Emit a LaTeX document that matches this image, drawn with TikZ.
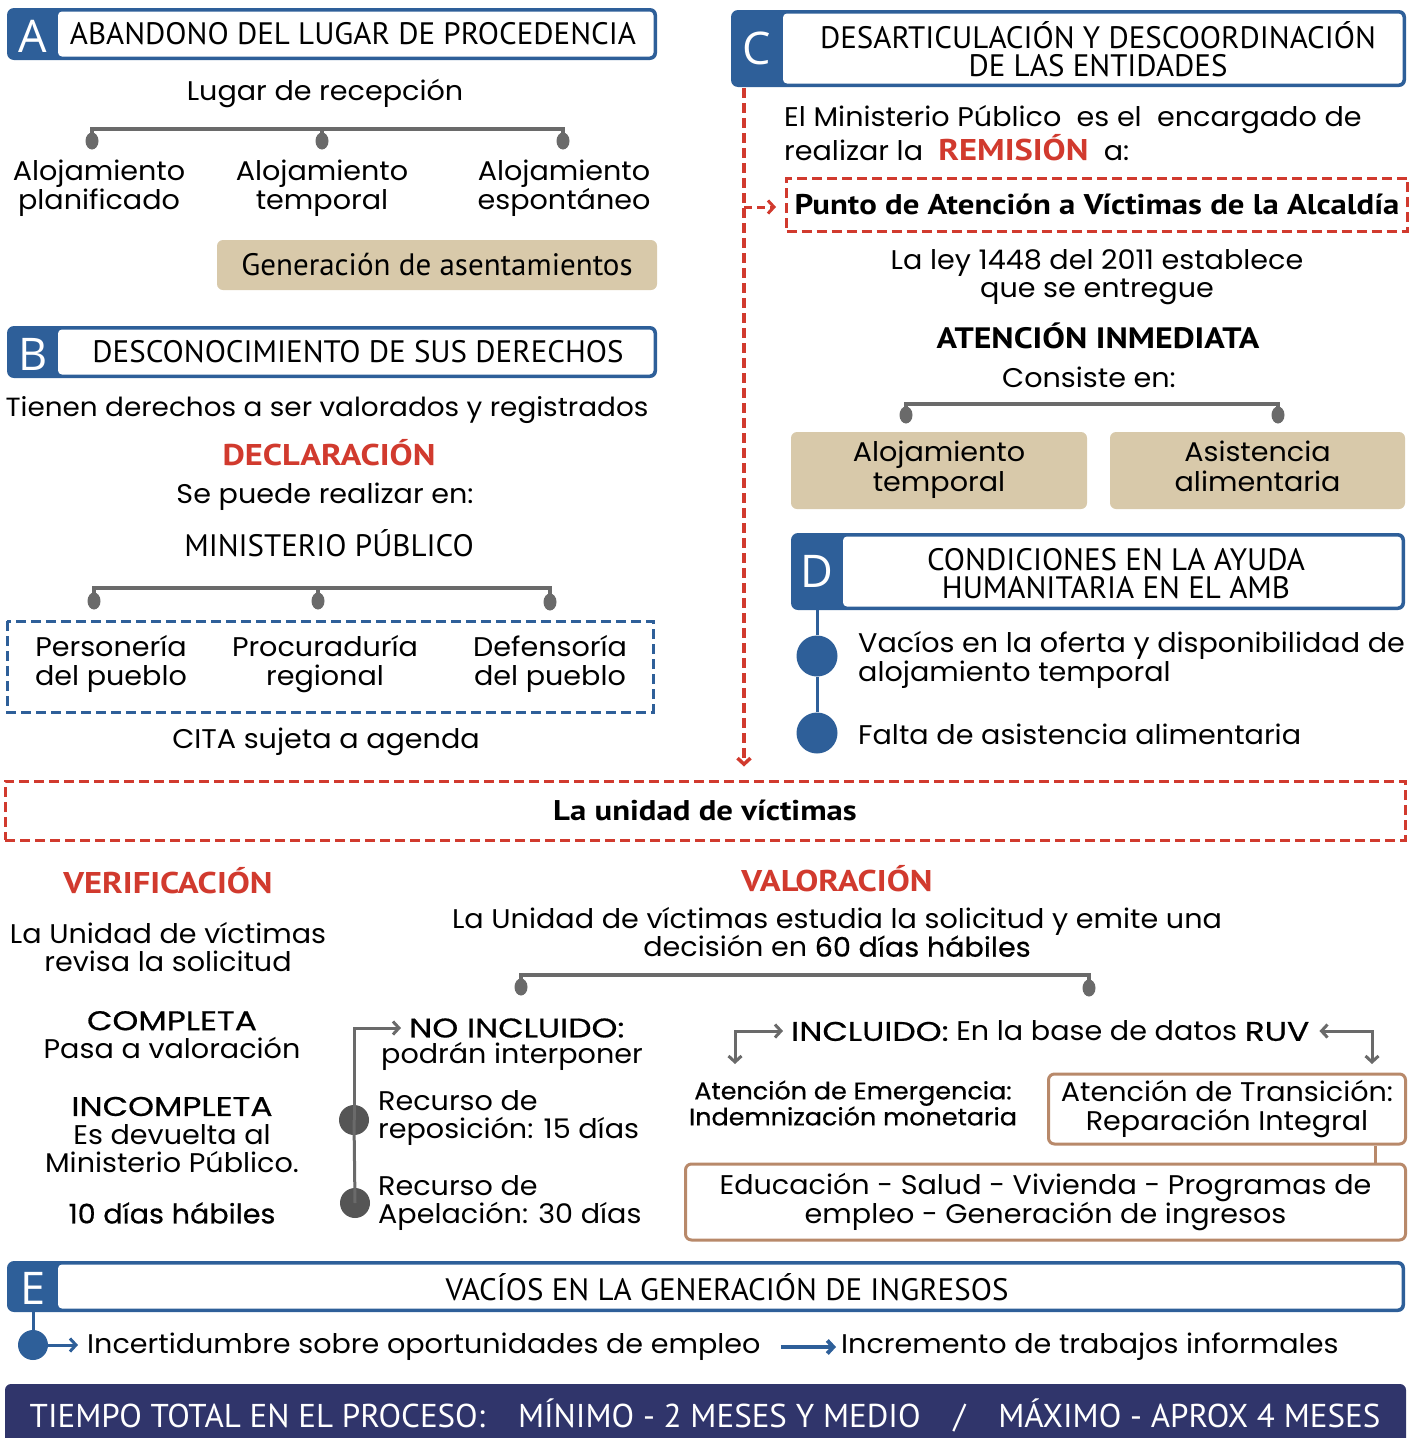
\documentclass[tikz,border=0pt]{standalone}
\usepackage{fontspec}
\setmainfont{Poppins}[FakeStretch=1.06]
\newfontfamily\hfont{PT Sans}
\newfontfamily\hbfont{PT Sans}[FakeStretch=1.15]
\newfontfamily\lfont{Open Sans}
\newfontfamily\medfont{Poppins}[FakeBold=0.6,FakeStretch=1.06]
\newfontfamily\capfont{Poppins}[FakeBold=0.6,FakeStretch=1.22]
\usetikzlibrary{arrows.meta,shapes.geometric}
\definecolor{cblue}{HTML}{2E5F99}
\definecolor{cred}{HTML}{D13A2E}
\definecolor{ctan}{HTML}{D8C9AA}
\definecolor{cgray}{HTML}{6A6A6A}
\definecolor{cdgray}{HTML}{555555}
\definecolor{cbrown}{HTML}{B8896A}
\definecolor{cnavy}{HTML}{30356B}
\newcommand\bsz{\fontsize{27}{28.5}\selectfont}
\newcommand\hsz{\hfont\fontsize{31}{28}\selectfont}
\newcommand\lsz{\lfont\fontsize{45}{45}\selectfont}
\newcommand\redb{\hbfont\bfseries\fontsize{30}{30}\selectfont\color{cred}}
\newcommand\hbsz[1]{\hbfont\bfseries\fontsize{#1}{#1}\selectfont}
\begin{document}
\begin{tikzpicture}[x=1pt,y=-1pt,
  body/.style={font=\bsz, align=center, inner sep=0pt},
  hdrtxt/.style={font=\hsz, align=center, inner sep=0pt},
  letter/.style={font=\lsz, text=white, inner sep=0pt},
  tree/.style={draw=cgray, line width=3.5pt},
  gdot/.style={shape=ellipse, fill=cgray, minimum width=13pt, minimum height=17pt, inner sep=0pt},
  tanbox/.style={fill=ctan, rounded corners=6pt, inner sep=0pt, align=center},
  reddash/.style={draw=cred, line width=3pt, dash pattern=on 10pt off 5pt},
  bluedash/.style={draw=cblue, line width=3pt, dash pattern=on 10pt off 5pt},
  chev/.style={-{Straight Barb[length=6pt,width=13pt]}},
  gline/.style={draw=cgray, line width=3pt},
  bline/.style={draw=cblue, line width=3pt},
  brbox/.style={draw=cbrown, line width=3pt, rounded corners=6pt, inner sep=0pt, align=center, font=\bsz},
  bcirc/.style={circle, fill=cblue, minimum size=41pt, inner sep=0pt},
  gcirc/.style={circle, fill=cdgray, minimum size=30pt, inner sep=0pt},
  redtitle/.style={font=\redb, inner sep=0pt}
]
\useasboundingbox (0,0) rectangle (1411,1438);

% ---------------- A ----------------
\fill[cblue, rounded corners=7pt] (7,8) rectangle (657,60);
\fill[white, rounded corners=4pt] (58,11.5) rectangle (653.5,56.5);
\node[letter] (lA) at (33,36) {A};
\node[hdrtxt] (hA) at (353,34) {ABANDONO DEL LUGAR DE PROCEDENCIA};

\node[body] (lugar) at (325,93) {Lugar de recepción};
\node[gdot] (ta1) at (92,141) {};
\node[gdot] (ta2) at (322,141) {};
\node[gdot] (ta3) at (563,141) {};
\draw[tree] (ta1.center) -- ++(0,-12) -| (ta3.center);
\draw[tree] (ta2.center) -- ++(0,-12);
\node[body] (a1) at (99,188) {Alojamiento\\planificado};
\node[body] (a2) at (322,188) {Alojamiento\\temporal};
\node[body] (a3) at (564,188) {Alojamiento\\espontáneo};
\node[tanbox, minimum width=440pt, minimum height=50pt, font=\hsz] (gen) at (437,265) {Generación de asentamientos};

% ---------------- B ----------------
\fill[cblue, rounded corners=7pt] (7,326) rectangle (657,378);
\fill[white, rounded corners=4pt] (58,329.5) rectangle (653.5,374.5);
\node[letter] (lB) at (33,354) {B};
\node[hdrtxt] (hB) at (358,352) {DESCONOCIMIENTO DE SUS DERECHOS};

\node[body, font=\fontsize{26.3}{28.5}\selectfont] (tienen) at (327,410) {Tienen derechos a ser valorados y registrados};
\node[redtitle] (decl) at (329,453) {DECLARACIÓN};
\node[body] (sepuede) at (325,497) {Se puede realizar en:};
\node[hdrtxt] (minis) at (329,543) {MINISTERIO PÚBLICO};
\node[gdot] (tb1) at (94,601) {};
\node[gdot] (tb2) at (318,601) {};
\node[gdot] (tb3) at (550,602) {};
\draw[tree] (tb1.center) -- ++(0,-13) -| (tb3.center);
\draw[tree] (tb2.center) -- ++(0,-13);
\draw[bluedash] (7,621) rectangle (653,712);
\node[body] (b1) at (111,664) {Personería\\del pueblo};
\node[body] (b2) at (325,664) {Procuraduría\\regional};
\node[body] (b3) at (550,664) {Defensoría\\del pueblo};
\node[body] (cita) at (326,742) {CITA sujeta a agenda};

% ---------------- C ----------------
\fill[cblue, rounded corners=7pt] (731,10) rectangle (1406,87);
\fill[white, rounded corners=4pt] (783,13.5) rectangle (1402.5,83.5);
\node[letter] (lC) at (757,48) {C};
\node[hdrtxt] (hC) at (1098,49) {DESARTICULACIÓN Y DESCOORDINACIÓN\\DE LAS ENTIDADES};

\node[body, align=left, anchor=west] (elmin) at (784,133) {El Ministerio Público\ \ es el\ \ encargado de\\realizar la\ \ {\redb REMISIÓN}\ \ a:};
\node[reddash, minimum width=621pt, minimum height=53pt, inner sep=0pt, font=\hbsz{28.5}] (punto) at (1097,204.5) {Punto de Atención a Víctimas de la Alcaldía};
\node[body] (ley) at (1097,277) {La ley 1448 del 2011 establece\\que se entregue};
\node[inner sep=0pt, font=\hbsz{29.5}] (aten) at (1098,336) {ATENCIÓN INMEDIATA};
\node[body] (consiste) at (1089,377) {Consiste en:};
\node[gdot] (tc1) at (906,415) {};
\node[gdot] (tc2) at (1278,415) {};
\draw[tree] (tc1.center) -- ++(0,-11) -| (tc2.center);
\node[tanbox, minimum width=296pt, minimum height=77pt, font=\bsz] (c1) at (939,470.5) {\strut Alojamiento\\\strut temporal};
\node[tanbox, minimum width=295pt, minimum height=77pt, font=\bsz] (c2) at (1257.5,470.5) {\strut Asistencia\\\strut alimentaria};

\coordinate (cstart) at (744,88);
\coordinate (cbranch) at (744,207);
\node[reddash, minimum width=1400pt, minimum height=59pt, inner sep=0pt, font=\hbsz{28.5}] (unidad) at (705,810.5) {La unidad de víctimas};
\draw[reddash, chev, line width=3.5pt] (cstart) -- ([yshift=13pt]unidad.north -| cstart);
\draw[reddash, chev, line width=3pt, dash pattern=on 8pt off 5pt] (cbranch) -- ([xshift=-9pt]punto.west |- cbranch);

% ---------------- D ----------------
\fill[cblue, rounded corners=7pt] (791,533) rectangle (1405,610);
\fill[white, rounded corners=4pt] (843,536.5) rectangle (1401.5,606.5);
\node[letter] (lD) at (817,571) {D};
\node[hdrtxt] (hD) at (1116,574) {CONDICIONES EN LA AYUDA\\HUMANITARIA EN EL AMB};
\coordinate (dstart) at (817,610);
\node[bcirc] (d1) at (817,656) {};
\node[bcirc] (d2) at (817,733) {};
\draw[bline] (dstart) -- (d1) -- (d2);
\node[body, align=left, anchor=west] (dt1) at (858,660) {Vacíos en la oferta y disponibilidad de\\alojamiento temporal};
\node[body, anchor=west] (dt2) at (858,734) {Falta de asistencia alimentaria};

% ---------------- Unidad de victimas ----------------
\node[redtitle] (verif) at (168,881) {VERIFICACIÓN};
\node[body] (revisa) at (168,947) {La Unidad de víctimas\\revisa la solicitud};
\node[body] (completa) at (172,1035) {{\capfont COMPLETA}\\Pasa a valoración};
\node[body] (incompleta) at (172,1135) {{\capfont INCOMPLETA}\\Es devuelta al\\Ministerio Público.};
\node[body, font=\bsz\medfont] (diez) at (172,1213) {10 días hábiles};

\node[redtitle] (valor) at (837,879) {VALORACIÓN};
\node[body] (estudia) at (837,932) {La Unidad de víctimas estudia la solicitud y emite una\\decisión en {\medfont 60 días hábiles}};
\node[gdot] (tv1) at (521,987) {};
\node[gdot] (tv2) at (1089,988) {};
\draw[tree] (tv1.center) -- ++(0,-12) -| (tv2.center);

% NO INCLUIDO
\node[body, anchor=west, font=\bsz\capfont] (noinc) at (409,1028) {NO INCLUIDO:};
\node[body, anchor=west] (podran) at (381,1056) {podrán interponer};
\node[gcirc] (n1) at (354,1120) {};
\node[gcirc] (n2) at (355,1203) {};
\draw[gline] (n2.center) -- (n1.center);
\draw[gline, chev] (n1.center) |- ([xshift=-8pt]noinc.west);
\node[body, align=left, anchor=west] (rec1) at (378,1118) {Recurso de\\reposición: 15 días};
\node[body, align=left, anchor=west] (rec2) at (378,1203) {Recurso de\\Apelación: 30 días};

% INCLUIDO
\node[body, anchor=west] (incl) at (791,1031) {{\capfont INCLUIDO:} En la base de datos {\capfont RUV}};
\coordinate (il) at (735,1064);
\coordinate (ir) at (1372,1064);
\draw[gline, {Straight Barb[length=6pt,width=13pt]}-{Straight Barb[length=6pt,width=13pt]}] (il) |- ([xshift=-8pt]incl.west);
\draw[gline, {Straight Barb[length=6pt,width=13pt]}-{Straight Barb[length=6pt,width=13pt]}] (ir) |- ([xshift=10pt]incl.east);
\node[body, font=\medfont\fontsize{24}{26}\selectfont] (emerg) at (853,1103) {Atención de Emergencia:\\Indemnización monetaria};
\node[brbox, minimum width=357pt, minimum height=70pt] (trans) at (1227,1109) {Atención de Transición:\\Reparación Integral};
\node[brbox, minimum width=720pt, minimum height=76pt] (educ) at (1045.5,1202) {Educación - Salud - Vivienda - Programas de\\empleo - Generación de ingresos};
\draw[draw=cbrown, line width=3pt] ([xshift=148pt]trans.south) -- ([xshift=148pt]trans.south |- educ.north);

% ---------------- E ----------------
\fill[cblue, rounded corners=7pt] (7,1261) rectangle (1405,1312);
\fill[white, rounded corners=4pt] (58,1264.5) rectangle (1401.5,1308.5);
\node[letter] (lE) at (33,1288) {E};
\node[hdrtxt] (hE) at (727,1287) {VACÍOS EN LA GENERACIÓN DE INGRESOS};
\coordinate (estart) at (33,1312);
\node[circle, fill=cblue, minimum size=30pt, inner sep=0pt] (e1) at (33,1345) {};
\draw[bline] (estart) -- (e1);
\node[body, anchor=west] (incert) at (87,1347) {Incertidumbre sobre oportunidades de empleo};
\node[body, anchor=west] (incre) at (841,1347) {Incremento de trabajos informales};
\draw[bline, chev] (e1.center) -- ([xshift=-9pt]incert.west |- e1);
\draw[bline, chev, line width=4pt] ([xshift=20pt]incert.east) -- ([xshift=-5pt]incre.west);

% ---------------- bottom bar ----------------
\fill[cnavy, rounded corners=6pt] (5,1384) rectangle (1406,1460);
\node[inner sep=0pt, text=white, font=\hfont\fontsize{33}{33}\selectfont] (tiempo) at (705,1415) {TIEMPO TOTAL EN EL PROCESO:\quad MÍNIMO - 2 MESES Y MEDIO\quad/\quad MÁXIMO - APROX 4 MESES};
\end{tikzpicture}
\end{document}
